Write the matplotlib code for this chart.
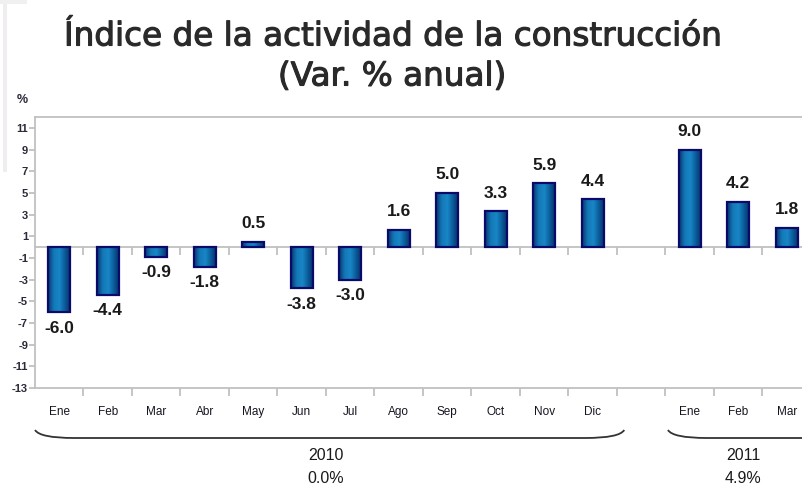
import matplotlib
matplotlib.use("Agg")
import matplotlib.pyplot as plt
import matplotlib.transforms as mtransforms
import matplotlib.patheffects as pe
from matplotlib.colors import LinearSegmentedColormap
from matplotlib.patches import Rectangle, PathPatch
from matplotlib.path import Path
import numpy as np

# datos
meses = ["Ene", "Feb", "Mar", "Abr", "May", "Jun", "Jul", "Ago", "Sep", "Oct", "Nov", "Dic",
         "", "Ene", "Feb", "Mar"]
valores = [-6.0, -4.4, -0.9, -1.8, 0.5, -3.8, -3.0, 1.6, 5.0, 3.3, 5.9, 4.4,
           None, 9.0, 4.2, 1.8]
anios = ["2010", "2011"]
anio_prom = ["0.0%", "4.9%"]
yticks = list(range(11, -14, -2))

W, H = 803, 490
fig = plt.figure(figsize=(W / 100, H / 100), dpi=100)
fig.patch.set_facecolor("white")

# eje (se sale por la derecha, como en el original recortado)
x0, x1 = 35, 35 + 48.5 * 16
y_top, y_bot = 117, 388
ax = fig.add_axes([x0 / W, 1 - y_bot / H, (x1 - x0) / W, (y_bot - y_top) / H])
ax.set_xlim(-0.5, len(meses) - 0.5)
ax.set_ylim(-13, 12)

gris = "#c0c0c0"
for s in ["left", "top", "bottom", "right"]:
    ax.spines[s].set_color(gris)
    ax.spines[s].set_linewidth(1.3)
ax.axhline(0, color=gris, lw=1.3, zorder=1)

ax.set_yticks(yticks)
ax.set_yticklabels([str(v) for v in yticks], fontsize=8, fontweight="bold",
                   color="#2a2a3a", family="Liberation Sans")
ax.tick_params(axis="y", length=4, color=gris, width=1.3, pad=1)

pos = np.arange(len(meses))
ax.set_xticks(pos)
ax.set_xticklabels(meses, fontsize=8.5, color="#151520", family="Liberation Sans")
ax.tick_params(axis="x", which="major", length=0, pad=13)
ax.set_xticks(pos[:-1] + 0.5, minor=True)
ax.tick_params(axis="x", which="minor", length=6, color=gris, width=1.3)
# marcas sobre la linea del cero
ax.vlines(pos[:-1] + 0.5, -0.75, 0, color=gris, lw=1.3, zorder=1)

cmap = LinearSegmentedColormap.from_list(
    "barra", ["#08386f", "#1478b8", "#1886c6", "#0b5a98", "#052c60"])
grad = np.linspace(0, 1, 64).reshape(1, -1)
bw = 0.46
for i, v in enumerate(valores):
    if v is None:
        continue
    lo, hi = min(0, v), max(0, v)
    im = ax.imshow(grad, cmap=cmap, aspect="auto", extent=[i - bw / 2, i + bw / 2, lo, hi],
                   zorder=2)
    rect = Rectangle((i - bw / 2, lo), bw, hi - lo, facecolor="none",
                     edgecolor="#0a0a6a", lw=1.6, zorder=3)
    ax.add_patch(rect)
    im.set_clip_path(rect)
    off = 13 if v >= 0 else -11.5
    ax.annotate(f"{v:.1f}", (i, v), xytext=(0, off), textcoords="offset points",
                ha="center", va="center", fontsize=12.5, fontweight="bold",
                color="#1a1a1a", family="Liberation Sans")
ax.set_xlim(-0.5, len(meses) - 0.5)
ax.set_ylim(-13, 12)

# llaves de los años
tr = mtransforms.blended_transform_factory(ax.transData, fig.transFigure)


def fy(px):
    return 1 - px / H


def llave(xa, xb, izq=True, der=True):
    yl, yu = fy(438), fy(430)
    verts, codes = [], []
    if izq:
        verts += [(xa, yu), (xa + 0.1, yl), (xa + 0.8, yl)]
        codes += [Path.MOVETO, Path.CURVE3, Path.CURVE3]
    else:
        verts += [(xa, yl)]
        codes += [Path.MOVETO]
    if der:
        verts += [(xb - 0.8, yl), (xb - 0.1, yl), (xb, yu)]
        codes += [Path.LINETO, Path.CURVE3, Path.CURVE3]
    else:
        verts += [(xb, yl)]
        codes += [Path.LINETO]
    fig.add_artist(PathPatch(Path(verts, codes), transform=tr, fill=False,
                             edgecolor="#333333", lw=1.3))


llave(-0.5, 11.65)
llave(12.55, 16.5, der=False)

for xc, a, p in [(5.5, anios[0], anio_prom[0]), (14.1, anios[1], anio_prom[1])]:
    fig.text(xc, fy(455), a, transform=tr, ha="center", va="center", fontsize=11.5,
             color="#1a1a1a", family="Liberation Sans")
    fig.text(xc, fy(478), p, transform=tr, ha="center", va="center", fontsize=11.5,
             color="#1a1a1a", family="Liberation Sans")

# titulo
grueso = [pe.withStroke(linewidth=0.8, foreground="#2a2a2a")]
fig.text(392 / W, fy(36), "Índice de la actividad de la construcción", ha="center",
         va="center", fontsize=23.5, color="#2a2a2a", family="DejaVu Sans",
         path_effects=grueso)
fig.text(392 / W, fy(76), "(Var. % anual)", ha="center", va="center", fontsize=23.5,
         color="#2a2a2a", family="DejaVu Sans", path_effects=grueso)
fig.text(22 / W, fy(100), "%", ha="center", va="center", fontsize=9, fontweight="bold",
         color="#2a2a3a", family="Liberation Sans")

# marco gris claro a la izquierda
fig.add_artist(Rectangle((3 / W, fy(172)), 4 / W, 172 / H, transform=fig.transFigure,
                         facecolor="#efedf0", edgecolor="none"))
fig.add_artist(Rectangle((0, fy(4)), 27 / W, 4 / H, transform=fig.transFigure,
                         facecolor="#f1eff2", edgecolor="none"))

fig.savefig("out.png", dpi=100)
